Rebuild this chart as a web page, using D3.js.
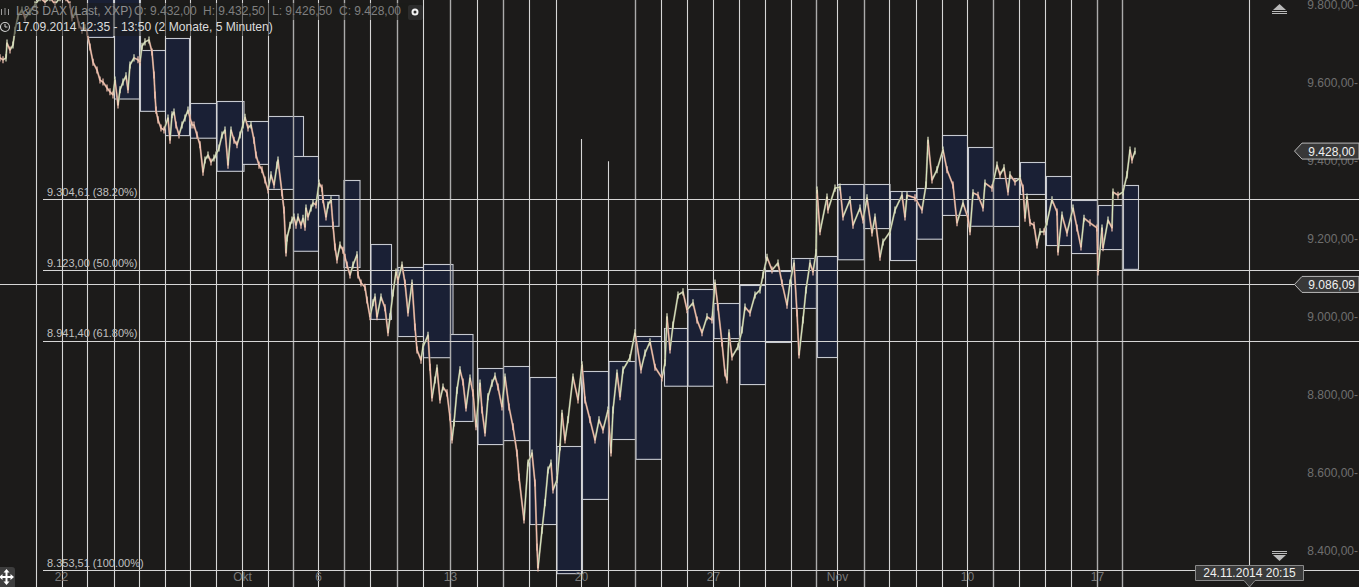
<!DOCTYPE html>
<html><head><meta charset="utf-8">
<script src="https://cdn.jsdelivr.net/npm/d3@7"></script>
<style>
html,body{margin:0;padding:0;background:#1c1b1a;overflow:hidden}
svg{display:block;font-family:"Liberation Sans",Arial,sans-serif}
.domain{display:none}
</style></head><body><svg id="c" width="1359" height="587"></svg>
<script>
// session opens, in half-hour chart slots
const sessions=[36,62,87,114,139,165,190,216,242,268,293,318,344,370,397,423,450,477,503,529,556,581,608,635,661,687,713,739,765,791,816,837,864,889,916,942,967,993,1019,1045,1071,1097,1122];
const heavySessions=[293,344,397,450,503,635,816,864,993,1097,1122];
const shortSessions=[581,608];
const shortTops=[9459,9402];
const dateTicks=[61,242,318,450,581,713,837,967,1097];
const dateLabels=["22","Okt","6","13","20","27","Nov","10","17"];
const priceTicks=[9800,9600,9400,9200,9000,8800,8600,8400];
const fibValues=[9304.61,9123,8941.4,8353.51];
const fibLabels=["9.304,61 (38.20%)","9.123,00 (50.00%)","8.941,40 (61.80%)","8.353,51 (100.00%)"];
const boxStart=[87,114,140,165,190,216.5,242,268,293,318,343.5,370.5,397.5,423,450,477.5,503,529.5,556.5,582,608.5,635.5,664,687.5,713.5,739.5,765,791,817,837.5,863.5,890,916.5,942,968,993,1020,1046,1071,1098,1123];
const boxEnd=[113,140,165,189,216,243.5,270,303,318,338.5,359.5,391,423,452.5,472.5,503,529,556,582,608,635,661,687,713,739,765,791,816.5,837,863.5,889.5,916,942,967,993,1019,1045,1071,1097,1122.5,1138];
const boxHigh=[9830,9830,9687,9718,9551,9556,9505,9518,9415,9315,9354,9190,9131,9139,8959,8872,8877,8849,8672,8864,8890,8954,8974,9074,9039,9085,9121,9154,9159,9344,9344,9326,9333,9469,9438,9359,9400,9364,9303,9290,9341];
const boxLow=[9720,9562,9531,9469,9462,9377,9395,9331,9172,9236,9131,8998,8954,8900,8736,8677,8687,8472,8346,8536,8690,8639,8826,8826,8949,8831,8939,9026,8900,9151,9231,9149,9203,9264,9236,9236,9318,9187,9167,9177,9126];
const priceSlot=[0,3,6,7,10,13,15,18,22,25,30,35,40,45,50,55,60,66,70,72,76,79,82,85,87,90,93,97,100,103,107,110,113,115,118,120,123,126,128,130,134,138,140,142,145,149,152,154,155,156,158,161,164,168,170,172,174,176,179,182,185,188,190,192,194,197,200,203,205,208,211,214,216,219,222,225,228,231,234,237,240,243,245,248,251,254,256,259,262,265,268,271,274,277,278,282,284,286,287,290,292,294,296,298,301,303,305,306,308,311,313,316,319,322,323,326,328,331,333,335,337,340,343,345,347,350,353,357,358,361,365,367,370,373,375,377,381,385,388,390,393,396,398,402,405,408,412,415,417,421,423,428,430,432,435,437,440,443,447,450,452,454,457,460,463,466,470,473,476,480,482,485,488,492,495,498,502,505,509,513,517,519,524,528,532,535,537,538,542,545,548,551,553,557,560,562,565,568,573,578,582,585,590,595,599,603,608,611,613,617,620,623,630,635,641,645,650,655,662,665,667,670,673,678,683,687,693,697,702,707,712,715,718,722,725,727,729,732,738,742,745,750,755,760,763,767,772,778,782,787,790,794,797,799,803,806,810,813,816,817,820,827,828,835,840,843,850,853,860,863,867,872,875,880,883,890,895,902,905,907,915,922,926,928,932,937,943,947,953,957,963,968,970,973,978,983,985,992,997,1000,1004,1008,1010,1015,1020,1023,1025,1027,1030,1034,1037,1040,1044,1047,1052,1057,1058,1062,1067,1073,1077,1081,1084,1090,1097,1098,1102,1103,1108,1112,1113,1118,1123,1127,1130,1132,1135];
const priceValue=[9667,9662,9667,9705,9687,9700,9738,9774,9790,9769,9785,9803,9821,9810,9821,9805,9821,9821,9803,9769,9785,9751,9738,9744,9733,9695,9656,9636,9610,9605,9590,9580,9572,9610,9546,9585,9605,9621,9585,9649,9667,9662,9656,9697,9708,9713,9682,9623,9572,9533,9508,9487,9482,9513,9456,9521,9528,9495,9469,9495,9513,9533,9513,9495,9495,9469,9444,9374,9405,9418,9400,9410,9418,9436,9469,9482,9392,9482,9456,9444,9469,9495,9515,9487,9495,9456,9418,9392,9380,9354,9328,9367,9341,9392,9405,9321,9277,9167,9205,9238,9251,9259,9238,9259,9238,9256,9233,9282,9259,9282,9295,9290,9346,9333,9303,9259,9290,9303,9238,9182,9149,9187,9174,9156,9136,9110,9136,9162,9110,9090,9079,9046,9003,9039,9054,9003,9054,9026,8962,9003,9064,9118,9097,9136,9090,9013,9090,8977,8918,8892,8926,8956,8874,8795,8841,8872,8790,8823,8808,8746,8687,8731,8815,8867,8836,8769,8846,8808,8721,8833,8764,8705,8798,8833,8851,8823,8772,8849,8772,8721,8654,8592,8482,8628,8654,8577,8413,8359,8456,8526,8610,8628,8559,8585,8669,8756,8687,8739,8849,8790,8880,8790,8739,8687,8739,8713,8764,8654,8764,8859,8798,8867,8898,8962,8867,8910,8939,8874,8846,8885,9003,8918,8982,9059,9067,9021,9039,8995,8962,9003,8995,9090,9028,8936,8859,8841,8962,8900,8926,8969,9028,9013,9059,9072,9110,9156,9123,9141,9090,9033,9090,9141,9013,8905,8995,9072,9141,9118,9167,9328,9221,9310,9277,9333,9336,9259,9303,9238,9282,9251,9308,9218,9259,9156,9195,9221,9277,9315,9259,9315,9308,9277,9341,9456,9354,9380,9431,9380,9341,9244,9295,9256,9221,9321,9315,9282,9346,9333,9392,9367,9385,9323,9367,9349,9359,9333,9256,9310,9244,9238,9187,9221,9221,9246,9303,9272,9169,9264,9218,9282,9231,9182,9256,9244,9231,9118,9231,9180,9251,9231,9323,9315,9323,9367,9431,9405,9428];
const crossSlot=1249, crossPrice=9086.09, lastPrice=9428;

const W=1359,H=587;
const x=d3.scaleLinear().domain([0,1359]).range([0,W]);
const y=d3.scaleLinear().domain([9800,8400]).range([6,552]);
const de=d3.formatLocale({decimal:",",thousands:".",grouping:[3],currency:["","€"]});
const fmt=de.format(",.2f");
const svg=d3.select("#c");
svg.append("rect").attr("width",W).attr("height",H).attr("fill","#1c1b1a");

// boxes
const boxes=boxStart.map((s,i)=>[s,boxEnd[i],boxHigh[i],boxLow[i]]);
svg.append("g").selectAll("rect").data(boxes).join("rect")
 .attr("x",d=>x(d[0])+.5).attr("width",d=>x(d[1])-x(d[0]))
 .attr("y",d=>Math.round(y(d[2]))+.5).attr("height",d=>y(d[3])-y(d[2]))
 .attr("fill","#1a2035").attr("stroke","#c6c9d0").attr("stroke-width",1.1);

// session lines
const tops=new Map(shortSessions.map((s,i)=>[s,shortTops[i]]));
svg.append("g").selectAll("line").data(sessions).join("line")
 .attr("x1",d=>x(d)+.5).attr("x2",d=>x(d)+.5)
 .attr("y1",d=>tops.has(d)?y(tops.get(d)):0).attr("y2",H)
 .attr("stroke",d=>heavySessions.includes(d)?"#ababab":"#d6d6d6")
 .attr("stroke-width",d=>heavySessions.includes(d)?1.4:1.1);

// fib lines + labels
const fg=svg.append("g");
fg.selectAll("line").data(fibValues).join("line")
 .attr("x1",x(43)).attr("x2",W).attr("y1",d=>Math.round(y(d))+.5).attr("y2",d=>Math.round(y(d))+.5)
 .attr("stroke","#d6d6d6").attr("stroke-width",1.1);
fg.selectAll("text").data(fibValues).join("text")
 .attr("x",x(47)).attr("y",d=>y(d)-3.5).attr("font-size",11).attr("fill","#c0c0c0")
 .text((d,i)=>fibLabels[i]);

// crosshair
svg.append("line").attr("x1",x(crossSlot)+.5).attr("x2",x(crossSlot)+.5).attr("y1",0).attr("y2",H).attr("stroke","#d6d6d6").attr("stroke-width",1.1);
svg.append("line").attr("x1",0).attr("x2",1295).attr("y1",Math.round(y(crossPrice))+.5).attr("y2",Math.round(y(crossPrice))+.5).attr("stroke","#d6d6d6").attr("stroke-width",1.1);

// price: line plus a short high-low tick at each reading
const pts=priceSlot.map((s,i)=>[s,priceValue[i]]);
const line=d3.line().x(d=>x(d[0])).y(d=>y(d[1]));
const tickSpan=9;
const pg=svg.append("g").attr("fill","none").attr("stroke-linejoin","round");
pg.append("path").attr("d",line(pts)).attr("stroke","#8a7a6c").attr("stroke-width",2);
pg.selectAll("path.s").data(d3.pairs(pts)).join("path").attr("class","s").attr("d",d=>line(d))
 .attr("stroke",d=>d[1][1]>=d[0][1]?"#d3e8c0":"#f5bfae").attr("stroke-width",1.1);
pg.selectAll("line").data(pts).join("line")
 .attr("x1",d=>x(d[0])).attr("x2",d=>x(d[0])).attr("y1",d=>y(d[1]+tickSpan)).attr("y2",d=>y(d[1]-tickSpan))
 .attr("stroke",(d,i)=>i&&pts[i-1][1]<d[1]?"#dfe6c4":"#f5c4b2").attr("stroke-width",1.2);

// axes
const ya=svg.append("g").attr("transform",`translate(1358,-1)`)
 .call(d3.axisLeft(y).tickValues(priceTicks).tickSize(0).tickPadding(0).tickFormat(d=>fmt(d)+"-"));
ya.selectAll("text").attr("font-size",12).attr("font-family","Liberation Sans").attr("fill","#6f6f6f");
const xa=svg.append("g").attr("transform",`translate(0,571)`)
 .call(d3.axisBottom(x).tickValues(dateTicks).tickSize(0).tickPadding(1).tickFormat((d,i)=>dateLabels[i]));
xa.selectAll("text").attr("font-size",12).attr("font-family","Liberation Sans").attr("fill","#7a7a7a");

// price tags
function tag(v){
 const c=y(v);
 svg.append("path").attr("d",`M1294.5,${c} L1302,${c-8} H1359 V${c+8} H1302 Z`)
  .attr("fill","#383838").attr("stroke","#b8b8b8").attr("stroke-width",1);
 svg.append("text").attr("x",1355).attr("y",c+4.5).attr("text-anchor","end").attr("font-size",12).attr("fill","#f0f0f0").text(fmt(v));
}
tag(lastPrice); tag(crossPrice);

// date tag
svg.append("path").attr("d",`M1195.5,565.5 H1303.5 V580.5 H1255 L1249.5,587 L1244,580.5 H1195.5 Z`)
 .attr("fill","#3a3a3a").attr("stroke","#8a8a8a");
svg.append("text").attr("x",1249.5).attr("y",576.5).attr("text-anchor","middle").attr("font-size",12).attr("fill","#f0f0f0").text("24.11.2014 20:15");

// scroll arrows
const ar=svg.append("g").attr("fill","#b9b9b9");
ar.append("path").attr("d","M1279.5,4 L1286,10 H1273 Z");
ar.append("rect").attr("x",1272).attr("y",11).attr("width",15).attr("height",1);
ar.append("rect").attr("x",1272).attr("y",13).attr("width",15).attr("height",1);
ar.append("rect").attr("x",1272).attr("y",551).attr("width",15).attr("height",1);
ar.append("rect").attr("x",1272).attr("y",553).attr("width",15).attr("height",1);
ar.append("path").attr("d","M1273,555 H1286 L1279.5,561 Z");

// header
svg.append("rect").attr("x",0).attr("y",3).attr("width",423).attr("height",17).attr("fill","#1c1b1a").attr("opacity",.55);
svg.append("rect").attr("x",0).attr("y",20).attr("width",278).attr("height",16).attr("fill","#1c1b1a").attr("opacity",.55);
svg.append("text").attr("x",16).attr("y",15).attr("font-size",12.1).attr("fill","#8e8e8e").text("L&S DAX (Last, XXP)");
svg.append("text").attr("x",134).attr("y",15).attr("font-size",12).attr("fill","#7f7f7f").text("O: 9.432,00");
svg.append("text").attr("x",203).attr("y",15).attr("font-size",12).attr("fill","#7f7f7f").text("H: 9.432,50");
svg.append("text").attr("x",272).attr("y",15).attr("font-size",12).attr("fill","#7f7f7f").text("L: 9.426,50");
svg.append("text").attr("x",339).attr("y",15).attr("font-size",12).attr("fill","#7f7f7f").text("C: 9.428,00");
svg.append("text").attr("x",16).attr("y",31).attr("font-size",12.1).attr("fill","#dcdcdc").text("17.09.2014 12:35 - 13:50 (2 Monate, 5 Minuten)");
svg.append("path").attr("d","M1.5,9 V15 M5,8 V15 M8.5,9 V15").attr("stroke","#9a9a9a").attr("stroke-width",1).attr("fill","none");
svg.append("circle").attr("cx",5).attr("cy",27).attr("r",4.5).attr("fill","none").attr("stroke","#d0d0d0").attr("stroke-width",1.1);
svg.append("path").attr("d","M5,24 V27 H7.5").attr("fill","none").attr("stroke","#d0d0d0");
svg.append("rect").attr("x",408).attr("y",5).attr("width",15).attr("height",15).attr("rx",2).attr("fill","#2c2c2c");
svg.append("circle").attr("cx",415).attr("cy",12).attr("r",2.5).attr("fill","none").attr("stroke","#f4f4f4").attr("stroke-width",2);

// move handle
svg.append("rect").attr("x",-3).attr("y",567).attr("width",18).attr("height",22).attr("rx",3).attr("fill","#3d3d3d");
const mv=svg.append("g").attr("stroke","#fff").attr("stroke-width",2).attr("fill","#fff");
mv.append("path").attr("d","M1,577 H12 M6.5,571.5 V583");
mv.append("path").attr("stroke","none").attr("d","M6.5,569 L9.5,572.5 H3.5 Z M6.5,585 L3.5,581.5 H9.5 Z M-1,577 L2.5,574 V580 Z M14,577 L10.5,574 V580 Z");
</script></body></html>
